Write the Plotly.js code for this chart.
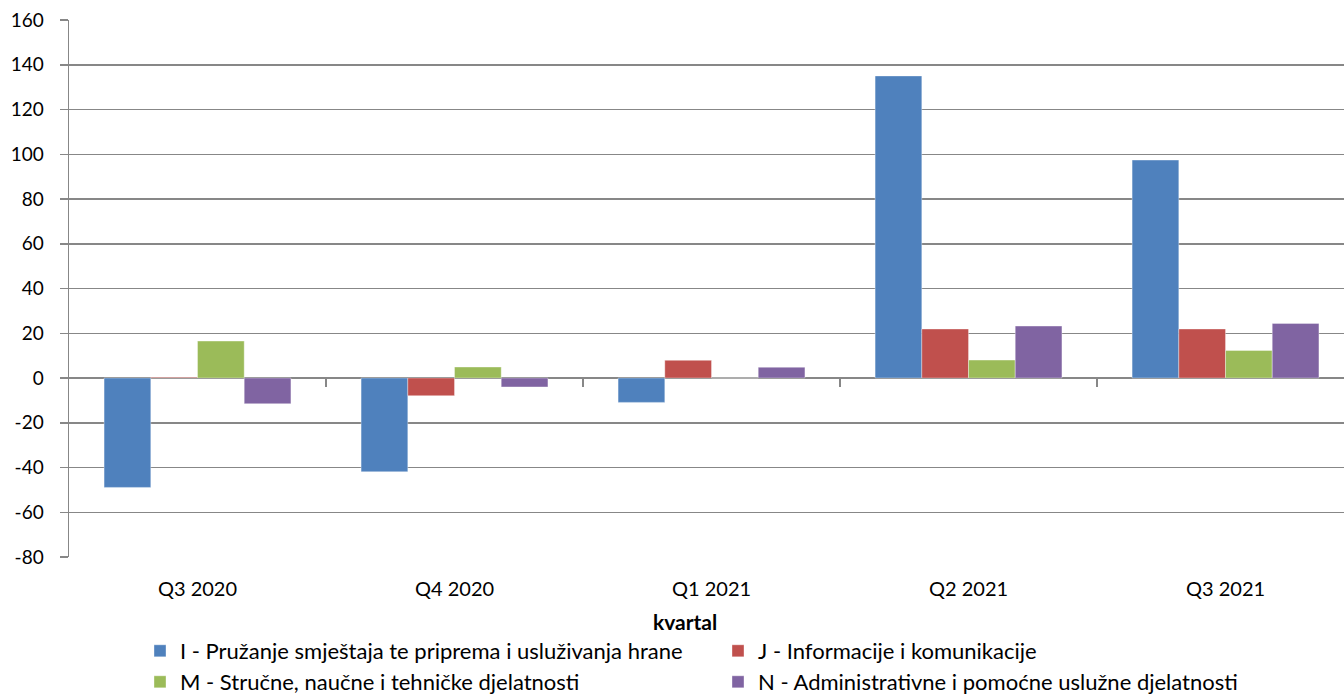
<!DOCTYPE html>
<html>
<head>
<meta charset="utf-8">
<script src="https://cdn.plot.ly/plotly-3.0.1.min.js"></script>
<style>html,body{margin:0;padding:0;background:#fff;}#chart{width:1344px;height:697px;}</style>
</head>
<body>
<div id="chart"></div>
<script>
const categories = ['Q3 2020', 'Q4 2020', 'Q1 2021', 'Q2 2021', 'Q3 2021'];
const seriesNames = [
  'I - Pružanje smještaja te priprema i usluživanja hrane',
  'J - Informacije i komunikacije',
  'M - Stručne, naučne i tehničke djelatnosti',
  'N - Administrativne i pomoćne uslužne djelatnosti'
];
const valuesI = [-48.9, -41.9, -10.9, 135.0, 97.4];
const valuesJ = [0.3, -7.9, 7.9, 21.9, 21.9];
const valuesM = [16.5, 4.9, 0, 8.0, 12.3];
const valuesN = [-11.5, -4.0, 4.8, 23.2, 24.4];
const seriesColors = ['#4F81BD', '#C0504D', '#9BBB59', '#8064A2'];
const yTicks = [-80, -60, -40, -20, 0, 20, 40, 60, 80, 100, 120, 140, 160];
const yTickLabels = ['-80', '-60', '-40', '-20', '0', '20', '40', '60', '80', '100', '120', '140', '160'];
const axisTitle = 'kvartal';

const FONT = 'Lato, "Open Sans", sans-serif';
const allValues = [valuesI, valuesJ, valuesM, valuesN];
const legendIds = ['legend', 'legend', 'legend2', 'legend2'];

const traces = allValues.map((vals, i) => ({
  type: 'bar',
  x: categories,
  y: vals,
  name: seriesNames[i],
  marker: {color: seriesColors[i], line: {width: 0.8, color: 'rgba(255,255,255,0.45)'}},
  legend: legendIds[i],
  hoverinfo: 'skip'
}));
// helper (empty) trace so the boundary-tick axis at y=0 is drawn
traces.push({type: 'scatter', x: [], y: [], xaxis: 'x2', showlegend: false, hoverinfo: 'skip'});

const xr = [-0.5, 4.461];
const legendCommon = {
  orientation: 'h', xanchor: 'left', yanchor: 'middle',
  entrywidth: 533, entrywidthmode: 'pixels',
  font: {family: FONT, size: 22, color: '#000'},
  bgcolor: 'rgba(0,0,0,0)', traceorder: 'normal', borderwidth: 0
};
const layout = {
  width: 1344, height: 697,
  margin: {l: 69, r: 0, t: 20, b: 140, autoexpand: false},
  paper_bgcolor: '#fff', plot_bgcolor: '#fff',
  font: {family: FONT, size: 19, color: '#000'},
  barmode: 'group', bargap: 0.273, bargroupgap: 0,
  xaxis: {
    type: 'category', range: xr, showgrid: false, zeroline: false,
    showline: false, ticks: '', ticklabelstandoff: 18,
    tickfont: {family: FONT, size: 20, color: '#000'}
  },
  xaxis2: {
    type: 'linear', overlaying: 'x', anchor: 'free', position: 1/3,
    range: xr, tickmode: 'array', tickvals: [0.5, 1.5, 2.5, 3.5],
    showticklabels: false, ticks: 'outside', ticklen: 8, tickwidth: 1.5,
    tickcolor: '#878787', showgrid: false, zeroline: false, showline: false, side: 'bottom'
  },
  yaxis: {
    range: [-80, 160], tickmode: 'array', tickvals: yTicks, ticktext: yTickLabels,
    showgrid: true, gridcolor: '#878787', gridwidth: 1.5,
    zeroline: true, zerolinecolor: '#878787', zerolinewidth: 1.5,
    showline: true, linecolor: '#878787', linewidth: 1.5,
    ticks: 'outside', ticklen: 8, tickwidth: 1.5, tickcolor: '#878787',
    ticklabelstandoff: 12,
    tickfont: {family: FONT, size: 19, color: '#000'}
  },
  legend: Object.assign({}, legendCommon, {x: (140 - 69) / 1275, y: (557 - 651) / 537}),
  legend2: Object.assign({}, legendCommon, {x: (140 - 69) / 1275, y: (557 - 682) / 537}),
  annotations: [{
    text: '<b>' + axisTitle + '</b>', xref: 'paper', yref: 'paper',
    x: (685 - 69) / 1275, y: (557 - 621) / 537, xanchor: 'center', yanchor: 'middle',
    showarrow: false, font: {family: FONT, size: 21, color: '#000'}
  }],
  showlegend: true
};

Plotly.newPlot('chart', traces, layout, {staticPlot: true, displayModeBar: false});
</script>
</body>
</html>
